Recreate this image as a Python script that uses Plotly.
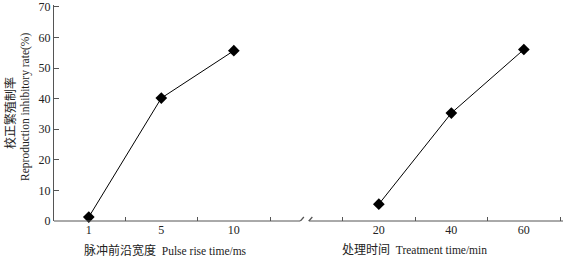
import plotly.graph_objects as go

# Data
pulse_labels = ["1", "5", "10"]
pulse_values = [1.3, 40.2, 55.7]
treat_labels = ["20", "40", "60"]
treat_values = [5.5, 35.3, 56.1]
y_ticks = [0, 10, 20, 30, 40, 50, 60, 70]

pulse_pos = [0, 1, 2]
treat_pos = [4, 5, 6]
boundaries = [0.5, 1.5, 2.5, 3.5, 4.5, 5.5, 6.5]

FONT = "Liberation Serif, Times New Roman, Noto Sans CJK SC, serif"
AX = "#555555"
X_RANGE = [-0.48, 6.54]

fig = go.Figure()
fig.add_trace(go.Scatter(x=pulse_pos, y=pulse_values, mode="lines+markers",
                         line=dict(color="black", width=1),
                         marker=dict(symbol="diamond", size=9, color="black"),
                         showlegend=False, cliponaxis=False))
fig.add_trace(go.Scatter(x=treat_pos, y=treat_values, mode="lines+markers",
                         line=dict(color="black", width=1),
                         marker=dict(symbol="diamond", size=9, color="black"),
                         showlegend=False, cliponaxis=False))
# invisible trace to activate xaxis2 for boundary ticks
fig.add_trace(go.Scatter(x=[0], y=[0], xaxis="x2", mode="markers",
                         marker=dict(opacity=0), showlegend=False, hoverinfo="skip"))

fig.update_layout(
    width=564, height=262,
    margin=dict(l=54, r=1, t=5, b=41),
    paper_bgcolor="white", plot_bgcolor="white",
    font=dict(family=FONT, size=11, color="#222222"),
    xaxis=dict(range=X_RANGE, tickvals=pulse_pos + treat_pos,
               ticktext=pulse_labels + treat_labels, ticks="", showline=False,
               showgrid=False, zeroline=False, tickfont=dict(size=12),
               automargin=False),
    xaxis2=dict(range=X_RANGE, overlaying="x", side="bottom",
                anchor="y", tickvals=boundaries, ticks="inside", ticklen=4,
                tickcolor=AX, showticklabels=False, showgrid=False,
                zeroline=False, showline=False, automargin=False),
    yaxis=dict(range=[0, 70.65], tickvals=y_ticks, ticks="inside", ticklen=5,
               tickcolor=AX, showline=True, linecolor=AX, linewidth=1,
               showgrid=False, zeroline=False, tickfont=dict(size=12),
               automargin=False, ticklabeloverflow="allow"),
)

# x-axis line with a break
brk_a, brk_b = 2.918, 3.035
fig.add_shape(type="line", xref="x", yref="paper", x0=X_RANGE[0], x1=brk_a, y0=0, y1=0,
              line=dict(color=AX, width=1))
fig.add_shape(type="line", xref="x", yref="paper", x0=brk_b, x1=X_RANGE[1], y0=0, y1=0,
              line=dict(color=AX, width=1))
for bx in (brk_a, brk_b):
    fig.add_shape(type="line", xref="x", yref="y", x0=bx - 0.048, x1=bx + 0.048,
                  y0=-1.3, y1=1.3, line=dict(color=AX, width=1.3))

# x titles
fig.add_annotation(x=1.06, y=0, xref="x", yref="paper", yshift=-29, showarrow=False,
                   text="<span style='font-size:12px'>脉冲前沿宽度</span>  Pulse rise time/ms",
                   font=dict(size=11.5), xanchor="center", yanchor="middle")
fig.add_annotation(x=4.49, y=0, xref="x", yref="paper", yshift=-29, showarrow=False,
                   text="<span style='font-size:12px'>处理时间</span>  Treatment time/min",
                   font=dict(size=11.5), xanchor="center", yanchor="middle")
# y titles
fig.add_annotation(x=0, y=0.50, xref="paper", yref="paper", xshift=-44, showarrow=False,
                   text="校正繁殖制率", textangle=-90, font=dict(size=12),
                   xanchor="center", yanchor="middle")
fig.add_annotation(x=0, y=0.528, xref="paper", yref="paper", xshift=-28, showarrow=False,
                   text="Reproduction inhibitory rate(%)", textangle=-90, font=dict(size=11.5),
                   xanchor="center", yanchor="middle")

fig.write_html("out.html", config={"displayModeBar": False},
               post_script="document.body.style.margin='0';")
